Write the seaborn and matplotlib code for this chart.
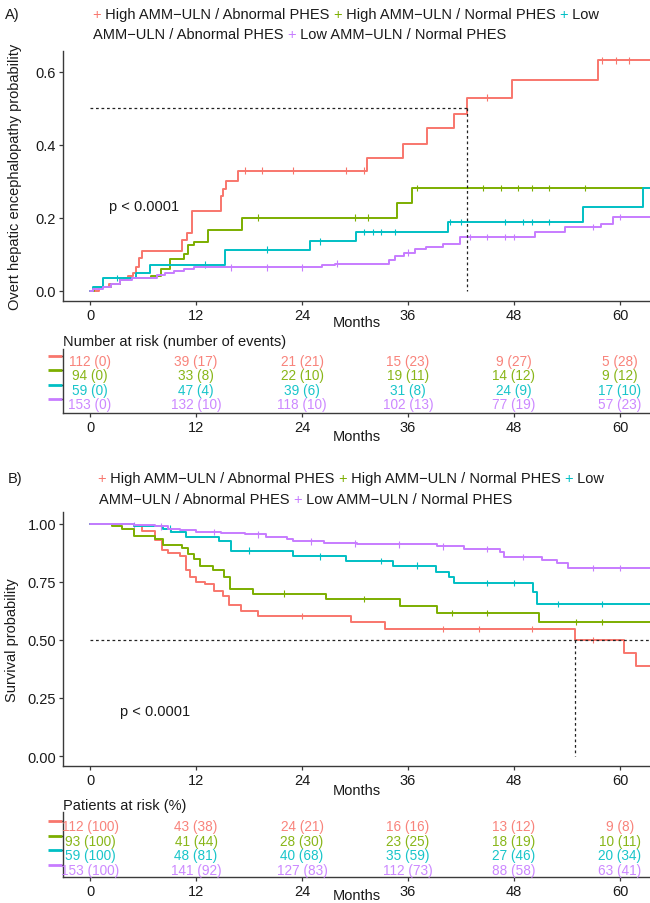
import numpy as np
import pandas as pd
import matplotlib
matplotlib.use("Agg")
import matplotlib.pyplot as plt
import matplotlib.transforms as mtransforms
import seaborn as sns

sns.set_theme(style="white")
plt.rcParams["font.family"] = ["Liberation Sans", "DejaVu Sans"]

# ---------------- data ----------------
groups = ["High AMM−ULN / Abnormal PHES", "High AMM−ULN / Normal PHES",
          "Low AMM−ULN / Abnormal PHES", "Low AMM−ULN / Normal PHES"]
colors = ["#F8766D", "#7CAE00", "#00BFC4", "#C77CFF"]
risk_times = [0, 12, 24, 36, 48, 60]
END = 63.5

# Panel A: cumulative probability of overt HE (step times / values)
a_red_t = [0, 1.0, 2.1, 3.4, 4.3, 4.9, 5.2, 5.6, 5.9, 10.4, 11.0, 11.6, 14.8, 15.1, 15.4, 16.8,
           31.4, 35.4, 38.2, 41.2, 42.7, 47.8, 57.5, END]
a_red_v = [0, 0.01, 0.02, 0.03, 0.04, 0.05, 0.065, 0.09, 0.11, 0.14, 0.16, 0.218, 0.26, 0.28, 0.30, 0.33,
           0.364, 0.403, 0.447, 0.485, 0.53, 0.578, 0.632, 0.632]
a_grn_t = [0, 0.5, 2.4, 3.4, 3.8, 6.9, 8.0, 9.0, 10.6, 11.1, 11.8, 13.4, 17.2, 34.8, 36.4, END]
a_grn_v = [0, 0.01, 0.02, 0.03, 0.035, 0.04, 0.06, 0.087, 0.10, 0.125, 0.135, 0.166, 0.201, 0.241, 0.282, 0.282]
a_cyn_t = [0, 0.3, 1.5, 5.2, 6.8, 15.3, 24.9, 30.1, 40.5, 55.8, 62.6, END]
a_cyn_v = [0, 0.01, 0.036, 0.05, 0.072, 0.113, 0.136, 0.161, 0.189, 0.23, 0.282, 0.282]
a_pur_t = [0, 0.3, 1.5, 2.4, 3.4, 4.8, 7.6, 8.5, 9.5, 10.6, 11.8, 26.3, 27.7, 33.8, 34.5, 35.5,
           36.8, 38.0, 40.0, 41.9, 50.4, 53.8, 57.8, 59.2, END]
a_pur_v = [0, 0.005, 0.01, 0.02, 0.03, 0.035, 0.045, 0.05, 0.055, 0.06, 0.065, 0.07, 0.075, 0.085, 0.095, 0.105,
           0.115, 0.12, 0.13, 0.148, 0.162, 0.175, 0.184, 0.203, 0.203]
a_cens = [[17.5, 19.5, 23, 29, 31, 45, 58, 59.5, 61],
          [19, 30, 31.5, 37, 44.5, 46.5, 48.5, 50, 52, 56],
          [3, 13, 20, 26, 31, 32, 33, 34.5, 40.8, 42, 47, 49, 50, 52],
          [16, 20, 24, 28, 36, 43, 45, 47, 48, 57, 60]]
a_median = 42.7

# Panel B: survival probability
b_red_t = [0, 5.0, 5.9, 7.4, 8.1, 8.8, 10.2, 10.9, 11.3, 12.0, 13.0, 14.0, 15.0, 15.7, 17.1, 19.0,
           29.5, 33.4, 54.9, 60.4, 61.8, END]
b_red_v = [1, 0.99, 0.97, 0.93, 0.89, 0.875, 0.863, 0.80, 0.77, 0.75, 0.74, 0.71, 0.69, 0.65, 0.625, 0.604,
           0.576, 0.548, 0.50, 0.444, 0.39, 0.39]
b_grn_t = [0, 2.5, 3.6, 5.0, 7.4, 8.3, 10.4, 11.1, 11.8, 12.5, 13.9, 15.2, 15.8, 18.5, 26.7, 35.1, 39.3, 50.8, END]
b_grn_v = [1, 0.99, 0.98, 0.95, 0.935, 0.91, 0.895, 0.87, 0.85, 0.82, 0.80, 0.77, 0.72, 0.70, 0.676, 0.648, 0.616, 0.578, 0.578]
b_cyn_t = [0, 5.0, 8.3, 9.2, 10.9, 14.6, 16.0, 23.0, 29.0, 34.3, 39.2, 40.6, 41.2, 50.1, 50.6, END]
b_cyn_v = [1, 0.99, 0.98, 0.964, 0.942, 0.925, 0.885, 0.86, 0.84, 0.82, 0.795, 0.77, 0.745, 0.705, 0.655, 0.655]
b_pur_t = [0, 5.0, 7.4, 8.8, 10.2, 12.0, 14.8, 17.6, 19.9, 22.3, 23.0, 26.5, 30.2, 39.3, 42.3, 46.4, 46.9,
           51.2, 52.9, 54.1, END]
b_pur_v = [1, 0.995, 0.99, 0.98, 0.975, 0.965, 0.96, 0.955, 0.945, 0.935, 0.925, 0.917, 0.912, 0.903, 0.892, 0.88, 0.858,
           0.845, 0.832, 0.81, 0.81]
b_cens = [[24, 40, 44, 50, 57],
          [22, 31, 41, 45, 55, 58],
          [9, 18, 26, 33, 37, 45, 48, 53, 58],
          [5, 8, 14, 19, 25, 30, 35, 40, 45, 49, 57, 60]]
b_median = 54.9

# Risk tables
a_risk = [["112 (0)", "39 (17)", "21 (21)", "15 (23)", "9 (27)", "5 (28)"],
          ["94 (0)", "33 (8)", "22 (10)", "19 (11)", "14 (12)", "9 (12)"],
          ["59 (0)", "47 (4)", "39 (6)", "31 (8)", "24 (9)", "17 (10)"],
          ["153 (0)", "132 (10)", "118 (10)", "102 (13)", "77 (19)", "57 (23)"]]
b_risk = [["112 (100)", "43 (38)", "24 (21)", "16 (16)", "13 (12)", "9 (8)"],
          ["93 (100)", "41 (44)", "28 (30)", "23 (25)", "18 (19)", "10 (11)"],
          ["59 (100)", "48 (81)", "40 (68)", "35 (59)", "27 (46)", "20 (34)"],
          ["153 (100)", "141 (92)", "127 (83)", "112 (73)", "88 (58)", "63 (41)"]]

# ---------------- figure ----------------
W, H = 650, 904
fig = plt.figure(figsize=(W / 100, H / 100), dpi=100)
fig.patch.set_facecolor("white")
XL = (-3.06, 63.4)
FS = 10.5
TXT = "#1a1a1a"
SPINE = "#3a3a3a"


def ax_at(left, top, right, bottom):
    return fig.add_axes([left / W, 1 - bottom / H, (right - left) / W, (bottom - top) / H])


def style(ax):
    for s in ["top", "right"]:
        ax.spines[s].set_visible(False)
    for s in ["left", "bottom"]:
        ax.spines[s].set_color(SPINE)
        ax.spines[s].set_linewidth(1.0)
    ax.tick_params(axis="both", colors=SPINE, labelcolor=TXT, labelsize=FS, length=3, width=0.9, pad=2,
                   bottom=True, left=True)
    ax.set_facecolor("white")
    ax.grid(False)


def step_lookup(ts, vs, t):
    i = np.searchsorted(ts, t, side="right") - 1
    return vs[max(i, 0)]


def draw_curves(ax, series, cens):
    rows = []
    crow = []
    for g, (ts, vs), cs in zip(groups, series, cens):
        for t, v in zip(ts, vs):
            rows.append({"time": t, "prob": v, "group": g})
        for c in cs:
            crow.append({"time": c, "prob": step_lookup(ts, vs, c), "group": g})
    df = pd.DataFrame(rows)
    cdf = pd.DataFrame(crow)
    sns.lineplot(data=df, x="time", y="prob", hue="group", hue_order=groups, palette=colors,
                 drawstyle="steps-post", estimator=None, sort=False, legend=False, lw=1.4, ax=ax)
    sns.scatterplot(data=cdf, x="time", y="prob", hue="group", hue_order=groups, palette=colors,
                    marker="|", s=22, linewidth=0.8, legend=False, ax=ax)


def draw_table(ax, table, ylim, text_off):
    for r, (row, col) in enumerate(zip(table, colors)):
        y = 4 - r
        for t, s in zip(risk_times, row):
            ax.text(t, y - text_off, s, color=col, ha="center", va="center", fontsize=9.8, alpha=0.9)
    ax.set_xlim(*XL)
    ax.set_ylim(*ylim)
    ax.set_xticks(risk_times)
    ax.set_yticks([4, 3, 2, 1])
    ax.set_yticklabels([])
    style(ax)
    trans = mtransforms.blended_transform_factory(ax.transAxes, ax.transData)
    for r, c in enumerate(colors):
        ax.plot([-0.026, -0.002], [4 - r, 4 - r], color=c, lw=2.0, transform=trans, clip_on=False,
                solid_capstyle="butt")
    ax.set_xlabel("Months", fontsize=FS, color=TXT)
    ax.set_ylabel("")


def legend_rows(x0, y_line1, x1, y_line2, tag, tag_x):
    fig.text(tag_x / W, 1 - y_line1 / H, tag, fontsize=FS, color=TXT, ha="left", va="center")
    line1 = [("+", colors[0]), (" High AMM−ULN / Abnormal PHES ", TXT), ("+", colors[1]),
             (" High AMM−ULN / Normal PHES ", TXT), ("+", colors[2]), (" Low", TXT)]
    line2 = [("AMM−ULN / Abnormal PHES ", TXT), ("+", colors[3]), (" Low AMM−ULN / Normal PHES", TXT)]
    for (x, y, pieces) in [(x0, y_line1, line1), (x1, y_line2, line2)]:
        t = fig.text(x / W, 1 - y / H, pieces[0][0], color=pieces[0][1], fontsize=FS, ha="left", va="center")
        for s, c in pieces[1:]:
            t = fig.axes[0].annotate(s, xy=(1, 0.5), xycoords=t, color=c, fontsize=FS, ha="left", va="center",
                                     annotation_clip=False)


# ---- Panel A ----
axA = ax_at(63, 52, 650, 302)
draw_curves(axA, [(a_red_t, a_red_v), (a_grn_t, a_grn_v), (a_cyn_t, a_cyn_v), (a_pur_t, a_pur_v)], a_cens)
axA.plot([0, a_median], [0.5, 0.5], color="#222222", lw=0.9, ls=(0, (2.2, 2.2)))
axA.plot([a_median, a_median], [0.5, 0], color="#222222", lw=0.9, ls=(0, (2.2, 2.2)))
axA.text(2.1, 0.233, "p < 0.0001", fontsize=FS, color=TXT, ha="left", va="center")
axA.set_xlim(*XL)
axA.set_ylim(-0.0274, 0.6575)
axA.set_xticks(risk_times)
axA.set_yticks([0, 0.2, 0.4, 0.6])
axA.set_yticklabels(["0.0", "0.2", "0.4", "0.6"])
style(axA)
axA.set_xlabel("Months", fontsize=FS, color=TXT)
axA.set_ylabel("Overt hepatic encephalopathy probability", fontsize=FS, color=TXT)
axA.xaxis.set_label_coords(0.5, -0.056)
axA.yaxis.set_label_coords(-0.07, 0.5)

tabA = ax_at(63, 350, 650, 414)
draw_table(tabA, a_risk, (0.023, 4.49), 0.35)
tabA.xaxis.set_label_coords(0.5, -0.25)
fig.text(63 / W, 1 - 342 / H, "Number at risk (number of events)", fontsize=FS, color=TXT, ha="left", va="center")

legend_rows(92, 15, 93, 35, "A)", 5)

# ---- Panel B ----
axB = ax_at(63, 513, 650, 767)
draw_curves(axB, [(b_red_t, b_red_v), (b_grn_t, b_grn_v), (b_cyn_t, b_cyn_v), (b_pur_t, b_pur_v)], b_cens)
axB.plot([0, XL[1]], [0.5, 0.5], color="#222222", lw=0.9, ls=(0, (2.2, 2.2)))
axB.plot([b_median, b_median], [0.5, 0], color="#222222", lw=0.9, ls=(0, (2.2, 2.2)))
axB.text(3.4, 0.194, "p < 0.0001", fontsize=FS, color=TXT, ha="left", va="center")
axB.set_xlim(*XL)
axB.set_ylim(-0.0431, 1.0517)
axB.set_xticks(risk_times)
axB.set_yticks([0, 0.25, 0.5, 0.75, 1.0])
axB.set_yticklabels(["0.00", "0.25", "0.50", "0.75", "1.00"])
style(axB)
axB.set_xlabel("Months", fontsize=FS, color=TXT)
axB.set_ylabel("Survival probability", fontsize=FS, color=TXT)
axB.xaxis.set_label_coords(0.5, -0.067)
axB.yaxis.set_label_coords(-0.075, 0.5)

tabB = ax_at(63, 813, 650, 878)
draw_table(tabB, b_risk, (0.18, 4.61), 0.35)
tabB.xaxis.set_label_coords(0.5, -0.165)
fig.text(63 / W, 1 - 806 / H, "Patients at risk (%)", fontsize=FS, color=TXT, ha="left", va="center")

legend_rows(97, 479, 99, 500, "B)", 8)

fig.savefig("out.png", dpi=100, facecolor="white")
